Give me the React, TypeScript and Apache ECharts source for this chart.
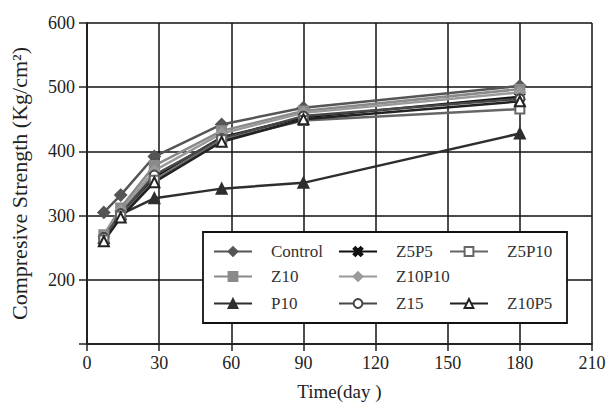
import React, { useEffect, useRef } from "react";
import * as echarts from "echarts";

const days = [7, 14, 28, 56, 90, 180];
const xTicks = [0, 30, 60, 90, 120, 150, 180, 210];
const yTicks = [100, 200, 300, 400, 500, 600];

const controlVals = [305, 332, 392, 442, 468, 502];
const z10Vals = [270, 312, 378, 432, 463, 497];
const p10Vals = [265, 302, 327, 342, 351, 428];
const z5p5Vals = [263, 302, 360, 422, 453, 485];
const z10p10Vals = [268, 308, 370, 428, 460, 492];
const z15Vals = [266, 303, 363, 420, 455, 482];
const z5p10Vals = [262, 299, 355, 418, 448, 466];
const z10p5Vals = [260, 297, 352, 415, 450, 478];

const crossPath =
  "path://M0,2L2,0L5,3L8,0L10,2L7,5L10,8L8,10L5,7L2,10L0,8L3,5Z";

const seriesDefs = [
  { name: "Control", data: controlVals, color: "#555555", symbol: "diamond", size: 11, lx: 213, ly: 243 },
  { name: "Z10", data: z10Vals, color: "#8a8a8a", symbol: "rect", size: 9, lx: 213, ly: 268 },
  { name: "P10", data: p10Vals, color: "#2e2e2e", symbol: "triangle", size: 10, lx: 213, ly: 295 },
  { name: "Z5P5", data: z5p5Vals, color: "#111111", symbol: crossPath, size: 9, lx: 338, ly: 243 },
  { name: "Z10P10", data: z10p10Vals, color: "#9a9a9a", symbol: "diamond", size: 10, lx: 338, ly: 268 },
  { name: "Z15", data: z15Vals, color: "#474747", symbol: "emptyCircle", size: 9, lx: 338, ly: 295 },
  { name: "Z5P10", data: z5p10Vals, color: "#666666", symbol: "emptyRect", size: 9, lx: 449, ly: 243 },
  { name: "Z10P5", data: z10p5Vals, color: "#222222", symbol: "emptyTriangle", size: 10, lx: 449, ly: 295 },
];

const font = "Liberation Serif";

export default function App() {
  const ref = useRef<HTMLDivElement>(null);

  useEffect(() => {
    if (!ref.current) return;
    const chart = echarts.init(ref.current, null, { renderer: "svg" });
    const option: any = {
      animation: false,
      backgroundColor: "#ffffff",
      textStyle: { fontFamily: font },
      grid: { left: 87, right: 17, top: 23, bottom: 63 },
      xAxis: {
        type: "value",
        min: 0,
        max: 210,
        interval: 30,
        name: "Time(day )",
        nameLocation: "middle",
        nameGap: 38,
        nameTextStyle: { fontFamily: font, fontSize: 19, color: "#222" },
        axisLine: { show: true, onZero: false, lineStyle: { color: "#222", width: 2 } },
        axisTick: { show: true, inside: false, length: 7, lineStyle: { color: "#222", width: 1.5 } },
        axisLabel: {
          fontFamily: font,
          fontSize: 18,
          color: "#222",
          margin: 10,
          formatter: (v: number) => (xTicks.includes(v) ? String(v) : ""),
        },
        splitLine: { show: true, lineStyle: { color: "#111", width: 1.5 } },
      },
      yAxis: {
        type: "value",
        min: 100,
        max: 600,
        interval: 100,
        name: "Compresive Strength (Kg/cm²)",
        nameLocation: "middle",
        nameGap: 57,
        nameTextStyle: { fontFamily: font, fontSize: 22, color: "#222" },
        axisLine: { show: true, onZero: false, lineStyle: { color: "#222", width: 2 } },
        axisTick: { show: true, inside: false, length: 8, lineStyle: { color: "#222", width: 1.5 } },
        axisLabel: {
          fontFamily: font,
          fontSize: 18,
          color: "#222",
          margin: 12,
          formatter: (v: number) => (v === yTicks[0] ? "" : String(v)),
        },
        splitLine: { show: true, lineStyle: { color: "#111", width: 1.5 } },
      },
      graphic: [
        {
          type: "rect",
          z: 10,
          shape: { x: 203, y: 232, width: 364, height: 91 },
          style: { fill: "#ffffff", stroke: "#111", lineWidth: 1.8 },
        },
      ],
      legend: seriesDefs.map((s) => ({
        data: [s.name],
        left: s.lx,
        top: s.ly,
        z: 20,
        itemWidth: 38,
        itemHeight: 11,
        itemGap: 0,
        padding: 0,
        selectedMode: false,
        textStyle: {
          fontFamily: font,
          fontSize: 17,
          color: "#333",
          padding: [0, 0, 0, 14],
        },
      })),
      series: seriesDefs.map((s) => ({
        name: s.name,
        type: "line",
        data: days.map((d, i) => [d, s.data[i]]),
        symbol: s.symbol,
        symbolSize: s.size,
        showAllSymbol: true,
        lineStyle: { color: s.color, width: 2.5 },
        itemStyle: { color: s.color, borderColor: s.color, borderWidth: 2 },
        z: 3,
      })),
    };
    chart.setOption(option);
    return () => chart.dispose();
  }, []);

  return (
    <div
      ref={ref}
      style={{ position: "fixed", left: 0, top: 0, width: 609, height: 407 }}
    />
  );
}
